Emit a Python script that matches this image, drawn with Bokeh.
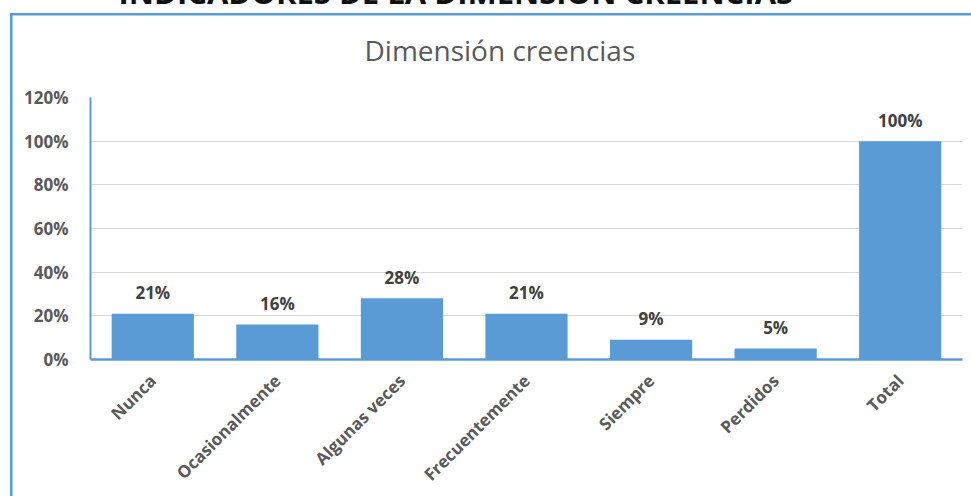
from bokeh.plotting import figure
from bokeh.models import (FactorRange, Range1d, FixedTicker, NumeralTickFormatter,
                          Title, ColumnDataSource)
from bokeh.embed import file_html
from bokeh.resources import INLINE
from bokeh.core.properties import value
import math

categories = ["Nunca", "Ocasionalmente", "Algunas veces", "Frecuentemente", "Siempre", "Perdidos", "Total"]
values = [0.21, 0.16, 0.28, 0.21, 0.09, 0.05, 1.00]
labels = ["21%", "16%", "28%", "21%", "9%", "5%", "100%"]
y_ticks = [0, 0.2, 0.4, 0.6, 0.8, 1.0, 1.2]

title_text = "Dimensión creencias"
header_text = "INDICADORES DE LA DIMENSIÓN CREENCIAS"

BLUE = "#5B9BD5"
FONT = "Open Sans"
S = 50  # part of the canvas hidden above the window

frame_css = {
    "background-image": f"linear-gradient({BLUE},{BLUE}), linear-gradient({BLUE},{BLUE})",
    "background-size": "965px 2.5px, 2.5px 520px",
    "background-position": f"9.5px {13 + S}px, 9.5px {13 + S}px",
    "background-repeat": "no-repeat",
}

p = figure(width=971, height=496 + S, output_backend="svg", toolbar_location=None,
           x_range=FactorRange(*categories), y_range=Range1d(0, 1.2),
           min_border_left=90, min_border_right=9, min_border_top=97 + S, min_border_bottom=137,
           background_fill_color="white", border_fill_color=None,
           margin=(-S, 0, 0, 0), styles=frame_css)
p.outline_line_color = None

src = ColumnDataSource(dict(cat=categories, val=values, lab=labels))
p.vbar(x="cat", top="val", width=0.66, source=src, fill_color=BLUE, line_color=None)
p.text(x="cat", y="val", text="lab", source=src, text_align="center",
       text_baseline="alphabetic", y_offset=-21, text_font=value(FONT),
       text_font_style="bold", text_font_size="17px", text_color="#404040")

# axes
p.xgrid.grid_line_color = None
p.ygrid.grid_line_color = "#D9D9D9"
p.ygrid.grid_line_width = 1

p.yaxis.ticker = FixedTicker(ticks=y_ticks)
p.yaxis.formatter = NumeralTickFormatter(format="0%")
p.yaxis.axis_line_color = BLUE
p.yaxis.axis_line_width = 2
p.yaxis.major_tick_line_color = None
p.yaxis.minor_tick_line_color = None
p.yaxis.major_label_standoff = 16
p.yaxis.major_label_text_font = FONT
p.yaxis.major_label_text_font_style = "bold"
p.yaxis.major_label_text_font_size = "17px"
p.yaxis.major_label_text_color = "#595959"

p.xaxis.axis_line_color = BLUE
p.xaxis.axis_line_width = 2.5
p.xaxis.major_tick_line_color = None
p.xaxis.minor_tick_line_color = None
p.xaxis.major_label_orientation = math.pi / 4
p.xaxis.major_label_standoff = 12
p.xaxis.major_label_text_font = FONT
p.xaxis.major_label_text_font_style = "bold"
p.xaxis.major_label_text_font_size = "17px"
p.xaxis.major_label_text_color = "#595959"

# spacer between frame and chart title, then the title, then the header cut by the window top
p.add_layout(Title(text=" ", standoff=26, text_font_size="1px"), "above")
p.add_layout(Title(text=title_text, align="left", offset=274, standoff=0,
                   text_font=FONT, text_font_style="normal", text_font_size="28px",
                   text_color="#595959"), "above")
p.add_layout(Title(text=header_text, align="left", offset=28, standoff=32,
                   text_font=FONT, text_font_style="bold", text_font_size="31px",
                   text_color="#111111"), "above")

open("out.html", "w").write(file_html(p, INLINE))
